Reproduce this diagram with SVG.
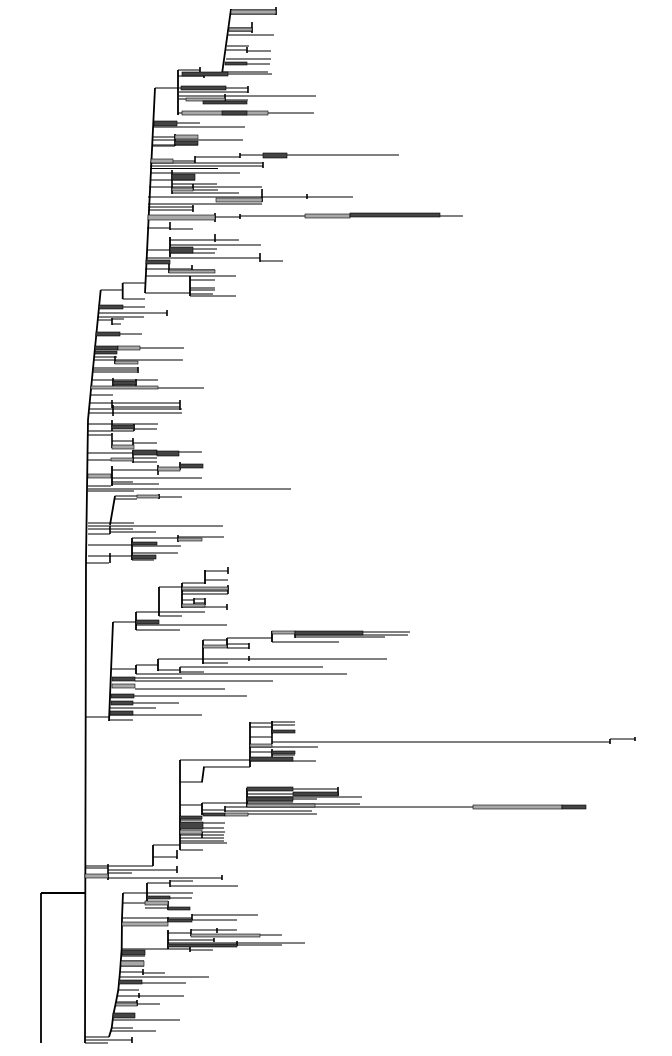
<svg xmlns="http://www.w3.org/2000/svg" width="672" height="1056" viewBox="0 0 672 1056">
<style>
.b{fill:none;stroke:#000;stroke-width:1}
.s{fill:none;stroke:#000;stroke-width:1.8}
.t{fill:none;stroke:#000;stroke-width:1.6}
.d{fill:#444;stroke:#000;stroke-width:.6}
.g{fill:#a8a8a8;stroke:#000;stroke-width:.6}
</style>
<rect width="672" height="1056" fill="#fff"/>
<g id="branches">
<g id="root">
<path class="s" d="M41 893 V1043 M41 893 H85"/>
<path class="s" d="M100.7 290 L95 348 L88 420 L86 560 L85 1043"/>
</g>
<g id="clade-top">
<path class="b" d="M100.7 290 H122.7 M122.7 283 H145 M122.7 299 H145 M155 88 H178 M178 70 H200 M200 74 H222
M231 10 H276 M231 14 H276 M229 28 H252 M229 31 H252 M228 35 H274 M227 46 H249 M226 50 H247 M247 51 H271 M226 59 H271 M225 64 H270 M223 72 H268 M222 74 H272
M178 76 H204 M179 88 H248 M179 92 H248 M179 96 H225 M225 96 H316 M179 99 H225 M225 100 H248 M203 103 H247 M178 113 H314
M153 123 H200 M153 127 H245 M153 137 H198 M153 140 H243 M175 143 H198 M152 146 H175 M153 145 H198
M151 161 H195 M195 157 H240 M240 155 H399 M150 163 H263 M150 166 H263 M150 168.5 H218
M150 173 H240 M172 175 H195 M172 178 H195 M150 180 H195 M172 184 H217 M149 187 H262 M172 190 H218 M172 193 H239
M148 197 H353 M148 204 H262 M148 207 H193 M148 210 H193 M148 217 H215 M215 217 H240 M240 216 H463
M147 228 H170 M170 229 H193 M147 250 H170 M170 240 H215 M215 240 H239 M170 245 H261 M193 249 H217 M170 253 H215
M146 258 H260 M260 261 H283 M145 269 H192 M192 270 H215 M145 276 H236 M190 280 H215 M190 288 H215 M190 290 H215 M145 293 H190 M190 294 H213 M190 296 H236"/>
<path class="s" d="M122.7 283 V299 M145 293 L155 88 M178 70 V115 M222 74 L231 9 M170 237 V257 M190 276 V296"/>
<path class="t" d="M200 67 V76 M276 7 V15 M252 22 V33 M247 47 V53 M204 74 V78 M248 86 V93 M225 94 V101 M175 134 V146 M195 156 V163 M240 153 V158 M263 162 V168 M172 170 V194 M193 184 V190 M262 189 V202 M307 194 V199 M193 205 V212 M215 213 V222 M240 214 V219 M170 222 V230 M215 234 V242 M260 253 V262 M169 264 V273 M192 265 V272"/>
</g>
<g id="clade-mid">
<path class="b" d="M99 307 H145 M98.5 313 H167 M98 317 H144 M98 320 H112 M112 319 H124 M112 324 H121 M96.4 334 H142 M95 348 H184 M95 352 H117 M94 357 H117 M94 360 H115 M115 360 H183 M115 363 H138 M93 368 H138 M93 370 H138 M93 372 H137
M92 380 H113 M113 380 H158 M113 385 H136 M91 388 H204 M90.4 395 H113 M90 403 H112 M112 403 H180 M112 407 H180 M90 409 H182 M89 413 H182
M88 424 H158 M112 427 H134 M134 429 H157 M88 431 H134 M88 435 H112 M112 441 H133 M133 443 H157 M112 447 H134 M88 453 H133 M157 452 H202 M133 458 H157 M88 460 H133 M133 462 H157
M88 476 H112 M112 470 H180 M180 466 H203 M112 478 H202 M112 482 H133 M112 484 H159 M88 486 H111 M88 489 H291 M88 491 H134
M115 496 H159 M159 497 H182 M115 499 H137 M88 523 H134 M88 526 H223 M88 529 H133 M110 532 H156 M88 534 H110
M88 545 H132 M132 538 H178 M178 537 H224 M132 543 H157 M132 546 H181 M132 553 H178 M88 556 H132 M132 560 H154 M86 563 H109"/>
<path class="s" d="M112 466 V486 M115 496 L110 525 M132 538 V560"/>
<path class="t" d="M167 310 V316 M112 318 V325 M115 356 V364 M138 367 V373 M113 378 V387 M136 379 V386 M112 400 V408 M180 400 V405 M180 404 V410 M113 405 V416 M112 420 V431 M134 424 V431 M112 433 V448 M133 438 V445 M133 450 V463 M158 465 V475 M180 462 V470 M159 494 V499 M110 526 V534 M178 535 V542 M110 553 V563"/>
</g>
<g id="clade-lower">
<path class="b" d="M113 622 H136 M136 612 H205 M159 587 H182 M182 583 H205 M205 571 H228 M205 580 H228 M182 588 H228 M182 591 H228 M182 594 H228 M182 600 H194 M194 599 H205 M194 603 H205 M182 607 H227 M159 616 H182 M136 625 H227 M136 630 H180
M112 669 H136 M136 665 H158 M136 674 H347 M158 659 H387 M203 640 H227 M227 638 H272 M272 632 H410 M295 635 H408 M295 637 H385 M272 642 H339 M227 644 H249 M227 648 H249 M203 663 H228
M158 670 H180 M180 667 H323 M180 672 H204 M112 678 H182 M135 681 H273 M112 686 H135 M135 689 H225 M111 696 H247 M111 703 H179 M110 708 H156 M110 713 H133 M110 715 H202 M109 720 H133 M85 717 H109"/>
<path class="s" d="M113 622 L109 721 M136 612 V630 M159 587 V616 M182 583 V608 M205 570 V584 M136 665 V674 M158 659 V671 M203 640 V664 M227 638 V648 M272 631 V642"/>
<path class="t" d="M228 567 V574 M228 585 V594 M194 598 V604 M205 598 V605 M227 604 V610 M295 632 V638 M249 643 V649 M249 656 V661 M180 667 V673"/>
</g>
<g id="clade-right">
<path class="b" d="M85 866 H153 M153 845 H180 M153 857 H177 M180 760 H250
M250 723 H272 M272 722 H295 M272 725 H295 M272 731 H295 M250 727 H272 M250 737 H272 M272 742 H610 M610 739 H635 M250 745 H272 M250 747 H318 M250 752 H295 M272 755 H295 M250 761 H316
M203 767 H250 M180 782 H203 M180 805 H202 M202 803 H247 M247 789 H338 M247 794 H339 M247 797 H362 M247 799 H317 M247 802 H293 M247 804 H360 M247 806 H315
M202 810 H225 M225 807 H585 M225 811 H312 M202 814 H317 M180 817 H202 M180 820 H202 M180 823 H225 M202 828 H224 M180 832 H225 M180 835 H224 M180 838 H224 M180 841 H224 M180 843 H227 M180 850 H203
M85 868 H108 M108 870 H177 M108 873 H132 M85 876 H108 M108 878 H222"/>
<path class="s" d="M153 845 V866 M180 760 V850 M250 722 V767 M272 721 V734 M204 767 L202 782 M202 803 V815 M247 788 V807"/>
<path class="t" d="M177 850 V859 M272 734 V744 M610 739 V744 M635 737 V741 M272 749 V757 M338 787 V796 M225 806 V812 M202 832 V838 M108 864 V880 M177 866 V873 M222 875 V880"/>
</g>
<g id="clade-bottom">
<path class="b" d="M85 1037 H109 M85 1040 H132 M85 1043 H108
M123 893 H193 M147 883 H170 M170 881 H193 M170 886 H238 M147 897 H170 M170 898 H192 M122 903 H168 M145 908 H190 M168 909 H190
M122 918 H192 M192 915 H258 M168 920 H237 M168 921 H191 M122 924 H168
M122 949 H190 M190 950 H213 M168 933 H191 M191 930 H237 M191 935 H282 M168 940 H214 M168 943 H237 M237 943 H305 M168 945 H282
M122 952 H145 M121.5 956 H145 M121 961 H144 M121 966 H144 M120 972 H143 M143 973 H165 M120 977 H209 M119.5 982 H142 M142 983 H186 M118.3 990 H139 M117.5 996 H184 M116 1002 H137 M137 1004 H160 M113.3 1015 H135 M113 1020 H180 M111.7 1028 H133 M111 1031 H156"/>
<path class="s" d="M109 1037 L111.7 1028 L113.3 1015 L116 1002 L118.3 990 L120 972 L121.7 949 L122 918 L123 893 M147 883 V904 M168 930 V949"/>
<path class="t" d="M132 1037 V1043 M170 880 V887 M168 901 V910 M192 914 V920 M168 917 V922 M190 947 V952 M191 929 V936 M217 928 V933 M214 938 V942 M237 941 V946 M143 969 V975 M139 993 V998 M137 1000 V1006"/>
</g>
</g>
<g id="node-bars">
<rect class="g" x="231" y="10" width="45" height="4"/>
<rect class="g" x="229" y="28" width="23" height="3"/>
<rect class="d" x="225" y="62" width="22" height="3"/>
<rect class="d" x="182" y="72" width="46" height="4"/>
<rect class="d" x="181" y="86" width="45" height="4"/>
<rect class="g" x="186" y="98" width="39" height="3"/>
<rect class="d" x="203" y="101" width="44" height="3"/>
<rect class="g" x="182" y="111" width="86" height="4"/>
<rect class="d" x="222" y="111" width="25" height="4"/>
<rect class="d" x="154" y="121" width="23" height="5"/>
<rect class="g" x="175" y="135" width="23" height="4"/>
<rect class="d" x="175" y="141" width="23" height="4"/>
<rect class="g" x="151" y="159" width="22" height="4"/>
<rect class="d" x="263" y="153" width="24" height="5"/>
<rect class="d" x="172" y="174" width="23" height="6"/>
<rect class="g" x="172" y="188" width="21" height="3"/>
<rect class="g" x="216" y="198" width="46" height="4"/>
<rect class="g" x="148" y="215" width="67" height="5"/>
<rect class="g" x="305" y="214" width="45" height="4"/>
<rect class="d" x="350" y="213" width="90" height="4"/>
<rect class="d" x="170" y="247" width="23" height="6"/>
<rect class="d" x="146" y="260" width="24" height="4"/>
<rect class="g" x="169" y="270" width="46" height="3"/>
<rect class="d" x="99" y="305" width="24" height="4"/>
<rect class="d" x="96" y="332" width="24" height="4"/>
<rect class="d" x="95" y="346" width="23" height="4"/>
<rect class="g" x="118" y="346" width="22" height="4"/>
<rect class="d" x="95" y="351" width="22" height="3"/>
<rect class="g" x="115" y="361" width="23" height="3"/>
<rect class="d" x="113" y="381" width="23" height="4"/>
<rect class="g" x="91" y="386" width="67" height="3"/>
<rect class="d" x="112" y="425" width="22" height="4"/>
<rect class="g" x="112" y="445" width="22" height="4"/>
<rect class="d" x="133" y="450" width="24" height="5"/>
<rect class="d" x="157" y="451" width="22" height="5"/>
<rect class="g" x="111" y="458" width="22" height="3"/>
<rect class="g" x="158" y="467" width="22" height="4"/>
<rect class="d" x="180" y="464" width="23" height="4"/>
<rect class="g" x="88" y="474" width="23" height="4"/>
<rect class="g" x="137" y="495" width="22" height="3"/>
<rect class="g" x="178" y="538" width="24" height="3"/>
<rect class="d" x="132" y="542" width="25" height="3"/>
<rect class="d" x="132" y="555" width="24" height="4"/>
<rect class="g" x="182" y="587" width="46" height="3"/>
<rect class="g" x="182" y="604" width="23" height="3"/>
<rect class="d" x="136" y="620" width="23" height="4"/>
<rect class="g" x="272" y="631" width="23" height="3"/>
<rect class="d" x="295" y="631" width="68" height="4"/>
<rect class="g" x="203" y="645" width="24" height="3"/>
<rect class="d" x="112" y="677" width="23" height="4"/>
<rect class="g" x="112" y="684" width="23" height="4"/>
<rect class="d" x="111" y="694" width="23" height="4"/>
<rect class="d" x="111" y="701" width="22" height="4"/>
<rect class="d" x="110" y="711" width="23" height="4"/>
<rect class="d" x="272" y="730" width="23" height="3"/>
<rect class="g" x="250" y="744" width="22" height="3"/>
<rect class="d" x="272" y="751" width="23" height="3"/>
<rect class="d" x="250" y="757" width="43" height="4"/>
<rect class="d" x="247" y="787" width="46" height="4"/>
<rect class="d" x="293" y="792" width="45" height="4"/>
<rect class="d" x="247" y="797" width="46" height="4"/>
<rect class="g" x="247" y="804" width="68" height="3"/>
<rect class="g" x="473" y="805" width="89" height="4"/>
<rect class="d" x="562" y="805" width="24" height="4"/>
<rect class="d" x="203" y="813" width="22" height="3"/>
<rect class="g" x="225" y="813" width="23" height="3"/>
<rect class="d" x="180" y="816" width="22" height="3"/>
<rect class="d" x="180" y="822" width="23" height="7"/>
<rect class="g" x="180" y="830" width="22" height="4"/>
<rect class="g" x="85" y="874" width="23" height="4"/>
<rect class="d" x="147" y="896" width="23" height="3"/>
<rect class="g" x="145" y="901" width="23" height="4"/>
<rect class="d" x="168" y="907" width="22" height="3"/>
<rect class="d" x="168" y="919" width="24" height="3"/>
<rect class="g" x="122" y="922" width="46" height="4"/>
<rect class="g" x="191" y="934" width="69" height="3"/>
<rect class="d" x="168" y="944" width="69" height="3"/>
<rect class="d" x="122" y="950" width="23" height="5"/>
<rect class="g" x="121" y="961" width="23" height="5"/>
<rect class="d" x="119" y="980" width="23" height="4"/>
<rect class="g" x="116" y="1003" width="21" height="3"/>
<rect class="d" x="113" y="1013" width="22" height="5"/>
</g>
</svg>
